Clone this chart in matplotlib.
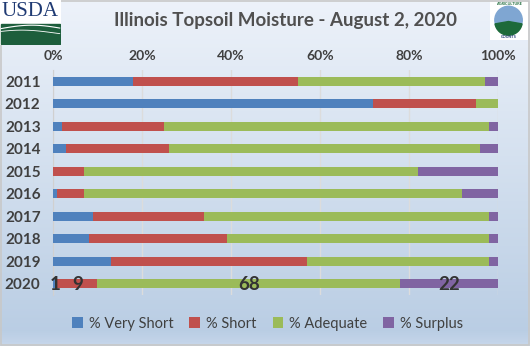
import numpy as np
import matplotlib.pyplot as plt
from matplotlib.patches import Rectangle, Circle, Wedge

plt.rcParams['font.family'] = ['Lato', 'DejaVu Sans']

years = ['2011', '2012', '2013', '2014', '2015', '2016', '2017', '2018', '2019', '2020']
very_short = [18, 72, 2, 3, 0, 1, 9, 8, 13, 1]
short = [37, 23, 23, 23, 7, 6, 25, 31, 44, 9]
adequate = [42, 5, 73, 70, 75, 85, 64, 59, 41, 68]
surplus = [3, 0, 2, 4, 18, 8, 2, 2, 2, 22]

series = [('% Very Short', very_short, '#4f81bd'),
          ('% Short', short, '#c0504d'),
          ('% Adequate', adequate, '#9bbb59'),
          ('% Surplus', surplus, '#8064a2')]

fig = plt.figure(figsize=(5.3, 3.46), dpi=100)

# gradient background for the whole chart
bg = fig.add_axes([0, 0, 1, 1], zorder=-10)
top = np.array([0.93, 0.95, 0.98])
bot = np.array([0.72, 0.80, 0.89])
t = np.linspace(0, 1, 256)[:, None]
grad = top + (bot - top) * t
grad[-12:] = grad[-12:] + (np.array([0.78, 0.84, 0.92]) - grad[-12:]) * np.linspace(0, 1, 12)[:, None]
bg.imshow(grad[:, None, :], aspect='auto', extent=[0, 1, 0, 1])
bg.add_patch(Rectangle((0.001, 0.002), 0.997, 0.995, fill=False, ec='#c8c8c8', lw=1.2))
bg.set_xlim(0, 1)
bg.set_ylim(0, 1)
bg.axis('off')

ax = fig.add_axes([0.1, 0.1474, 0.8396, 0.6503])
ax.patch.set_alpha(0)

y = np.arange(len(years))
left = np.zeros(len(years))
for name, vals, col in series:
    vals = np.array(vals)
    ax.barh(y, vals, left=left, height=0.4, color=col, label=name, zorder=3)
    left = left + vals

# value labels on the 2020 row
i = len(years) - 1
start = 0
for name, vals, col in series:
    v = vals[i]
    ax.text(start + v / 2, y[i] + 0.02, str(v), ha='center', va='center',
            fontsize=13.5, fontweight='bold', color='#333333', zorder=5)
    start += v

ax.set_xlim(0, 100)
ax.set_ylim(len(years) - 0.5, -0.5)
ax.set_yticks(y)
ax.set_yticklabels(years, fontsize=11, fontweight='bold', color='#404040')
ax.set_xticks([0, 20, 40, 60, 80, 100])
ax.set_xticklabels(['0%', '20%', '40%', '60%', '80%', '100%'],
                   fontsize=10, fontweight='bold', color='#404040')
ax.xaxis.tick_top()
ax.tick_params(length=0, pad=6)
ax.tick_params(axis='y', pad=9)
ax.grid(axis='x', color='#dcdcdc', lw=1, zorder=0)
for s in ['top', 'right', 'bottom']:
    ax.spines[s].set_visible(False)
ax.spines['left'].set_color('#d0d0d0')

fig.text(0.538, 0.942, 'Illinois Topsoil Moisture - August 2, 2020', ha='center', va='center',
         fontsize=13.5, fontweight='bold', color='#505050')

fig.legend(loc='center', bbox_to_anchor=(0.505, 0.064), ncol=4, frameon=False,
           fontsize=10.5, handlelength=0.75, handleheight=0.75, handletextpad=0.4,
           columnspacing=1.1, labelcolor='#404040')

# USDA logo
lg = fig.add_axes([0, 0.87, 0.115, 0.13])
lg.set_xlim(0, 1)
lg.set_ylim(0, 1)
lg.axis('off')
lg.add_patch(Rectangle((0, 0), 1, 1, color='white'))
lg.text(0.5, 0.74, 'USDA', ha='center', va='center', fontsize=15,
        family='Liberation Serif', color='#1f3a73', clip_on=False)
lg.add_patch(Rectangle((0.02, 0.02), 0.96, 0.44, color='#1d5e3c'))
xs = np.linspace(0.02, 0.98, 50)
lg.plot(xs, 0.36 + 0.08 * np.sin(xs * 3), color='white', lw=0.8)
lg.plot(xs, 0.27 + 0.06 * np.sin(xs * 3 + 0.5), color='white', lw=0.6)

# Agriculture Counts logo
ac = fig.add_axes([0.922, 0.885, 0.075, 0.11])
ac.set_xlim(0, 1)
ac.set_ylim(0, 1)
ac.set_aspect('equal')
ac.axis('off')
ac.add_patch(Rectangle((0, 0), 1, 1, color='white'))
ac.add_patch(Circle((0.5, 0.52), 0.36, color='#7fa6d2'))
ac.add_patch(Wedge((0.5, 0.48), 0.36, 190, 350, color='#1d6a3a'))
ac.text(0.5, 0.94, 'AGRICULTURE', ha='center', va='center', fontsize=2.8,
        fontweight='bold', color='#1d6a3a')
ac.text(0.5, 0.07, 'COUNTS', ha='center', va='center', fontsize=2.8,
        fontweight='bold', color='#1f3a73')

fig.savefig('out.png', dpi=100)
